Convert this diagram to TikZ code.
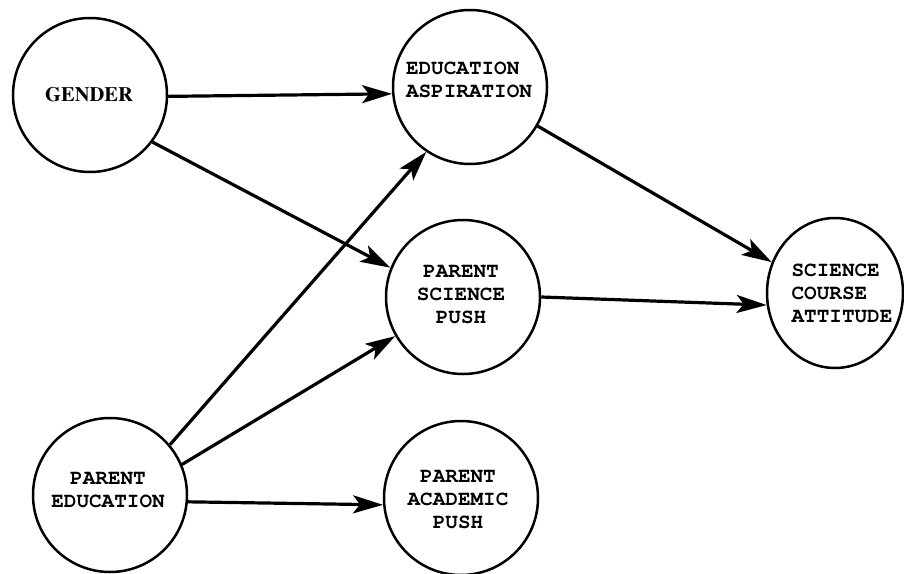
\documentclass[tikz,border=0pt]{standalone}
\usepackage[T1]{fontenc}
\usetikzlibrary{arrows.meta,shapes.geometric}
\begin{document}
\begin{tikzpicture}[x=1pt,y=-1pt,
  var/.style={circle,draw,line width=2.5pt,minimum size=154pt,inner sep=0pt},
  varoval/.style={ellipse,draw,line width=2.5pt,minimum width=136pt,minimum height=150pt,inner sep=0pt},
  lbl/.style={font=\fontfamily{pcr}\bfseries\fontsize{21}{23}\selectfont,inner sep=0pt},
  link/.style={line width=3.2pt,-{Stealth[length=30pt,width=18pt,inset=7pt]}}]
\useasboundingbox[fill=white] (0,0) rectangle (904,573);

% variables
\node[var] (g)   at (90,95)   {};
\node[var] (ea)  at (470,87)  {};
\node[var] (psp) at (463,297) {};
\node[varoval] (sca) at (835,293) {};
\node[var] (pe)  at (110,495) {};
\node[var] (pap) at (461,498) {};

% labels
\node[inner sep=0pt,font=\fontfamily{ptm}\bfseries\fontsize{20.5}{22}\selectfont] (g-t) at (89,95) {GENDER};
\node[lbl,align=left]   (ea-t)  at (469,80)  {EDUCATION\\ASPIRATION};
\node[lbl,align=center] (psp-t) at (461,295) {PARENT\\SCIENCE\\PUSH};
\node[lbl,align=left]   (sca-t) at (842,293) {SCIENCE\\COURSE\\ATTITUDE};
\node[lbl,align=center] (pe-t)  at (108,490) {PARENT\\EDUCATION};
\node[lbl,align=center] (pap-t) at (458,500) {PARENT\\ACADEMIC\\PUSH};

% paths
\draw[link] (g.-1)   -- (ea.185);
\draw[link] (g.-37)  -- (psp.158);
\draw[link] (pe.40)  -- (ea.236);
\draw[link] (pe.23)  -- (psp.210);
\draw[link] (pe.-5)  -- (pap.185);
\draw[link] (ea.-30) -- (sca.154);
\draw[link] (psp.0)  -- (sca.190);
\end{tikzpicture}
\end{document}
